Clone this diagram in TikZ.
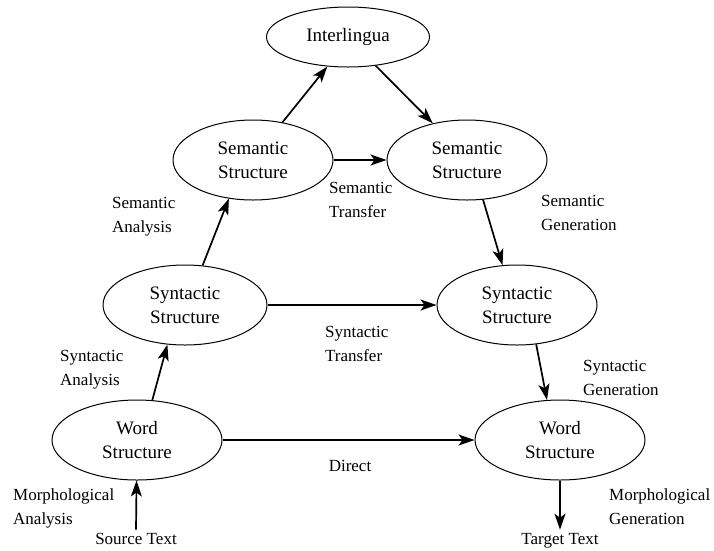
\documentclass[tikz,border=0pt]{standalone}
\usepackage{fontspec}
\setmainfont{Liberation Serif}
\usetikzlibrary{shapes.geometric,arrows.meta}

\begin{document}
\begin{tikzpicture}[x=1pt,y=-1pt,
  level/.style={draw,ellipse,line width=1pt,minimum width=160pt,minimum height=80pt,
    inner sep=0pt,align=center,font=\fontsize{19}{24}\selectfont},
  lbl/.style={align=left,inner sep=0pt,anchor=north west,font=\fontsize{17}{24}\selectfont},
  flow/.style={-{Stealth[length=16pt,width=11pt,inset=4pt]},line width=1.7pt}]
  \useasboundingbox (0,0) rectangle (714,550);
  % the levels
  \node[level,minimum width=163pt,minimum height=60pt] (inter) at (348,37) {Interlingua};
  \node[level] (semL) at (253,160) {Semantic\\Structure};
  \node[level] (semR) at (467,160) {Semantic\\Structure};
  \node[level,minimum width=164pt] (synL) at (185,305) {Syntactic\\Structure};
  \node[level] (synR) at (517,305) {Syntactic\\Structure};
  \node[level,minimum width=170pt] (wordL) at (137,440) {Word\\Structure};
  \node[level,minimum width=170pt] (wordR) at (560,440) {Word\\Structure};
  \node[lbl,anchor=base,inner sep=3pt] (src) at (136,544) {Source Text};
  \node[lbl,anchor=base,inner sep=3pt] (tgt) at (560,544) {Target Text};
  % labels
  \node[lbl] (semAn) at (112,197.5) {Semantic\\Analysis};
  \node[lbl] (semTr) at (329,182.5) {Semantic\\Transfer};
  \node[lbl] (semGen) at (541,195.5) {Semantic\\Generation};
  \node[lbl] (synAn) at (60,350.5) {Syntactic\\Analysis};
  \node[lbl] (synTr) at (325,326.5) {Syntactic\\Transfer};
  \node[lbl] (synGen) at (583,360.5) {Syntactic\\Generation};
  \node[lbl,anchor=base] (direct) at (350,471) {Direct};
  \node[lbl] (morAn) at (13,488) {Morphological\\Analysis};
  \node[lbl] (morGen) at (609,488) {Morphological\\Generation};
  % arrows
  \draw[flow] (src.north) -- (wordL);
  \draw[flow] (wordL.69) -- (synL.246);
  \draw[flow] (synL.66) -- (semL.238);
  \draw[flow] (semL.52) -- (inter.235);
  \draw[flow] (inter.314) -- (semR.133);
  \draw[flow] (semR.-68) -- (synR.110);
  \draw[flow] (synR.-64) -- (wordR.108);
  \draw[flow] (wordR) -- (tgt.north);
  \draw[flow] (wordL) -- (wordR);
  \draw[flow] (synL) -- (synR);
  \draw[flow] (semL) -- (semR);
\end{tikzpicture}
\end{document}
